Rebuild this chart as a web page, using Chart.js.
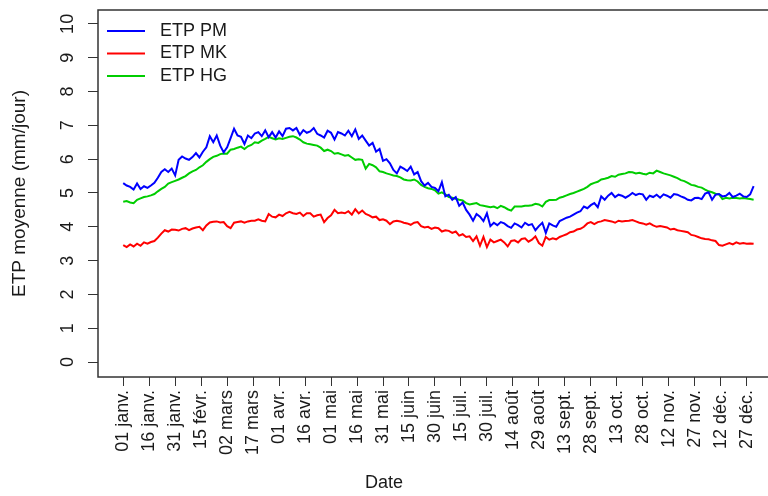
<!DOCTYPE html>
<html lang="fr">
<head>
<meta charset="utf-8">
<title>ETP moyenne journalière</title>
<script src="https://cdn.jsdelivr.net/npm/chart.js@4.4.1/dist/chart.umd.min.js"></script>
<style>
  html, body { margin: 0; padding: 0; background: #fff; overflow: hidden; }
  canvas { display: block; }
</style>
</head>
<body>
<canvas id="graphETP" width="768" height="496"></canvas>
<script>
// jour de l'année (0 = 1er janvier), un point tous les 2 jours
const jours = [];
for (let j = 0; j <= 364; j += 2) jours.push(j);

// ETP Penman-Monteith (mm/jour)
const etpPM = [
  5.29, 5.22, 5.18, 5.10, 5.28, 5.12, 5.20, 5.15, 5.22, 5.30,
  5.45, 5.62, 5.70, 5.62, 5.72, 5.52, 5.98, 6.08, 6.02, 5.98,
  6.06, 6.18, 6.05, 6.22, 6.35, 6.68, 6.50, 6.70, 6.40, 6.20,
  6.35, 6.62, 6.90, 6.70, 6.66, 6.45, 6.70, 6.62, 6.76, 6.80,
  6.68, 6.85, 6.65, 6.80, 6.64, 6.82, 6.68, 6.90, 6.92, 6.85,
  6.92, 6.72, 6.86, 6.78, 6.82, 6.92, 6.75, 6.70, 6.64, 6.84,
  6.78, 6.58, 6.80, 6.76, 6.70, 6.84, 6.68, 6.88, 6.60, 6.70,
  6.55, 6.40, 6.48, 6.22, 6.30, 5.95, 6.00, 5.88, 5.68, 5.58,
  5.78, 5.72, 5.65, 5.78, 5.55, 5.62, 5.35, 5.22, 5.30, 5.18,
  5.15, 5.05, 5.32, 4.90, 4.95, 4.80, 4.88, 4.62, 4.72, 4.50,
  4.36, 4.18, 4.38, 4.30, 4.17, 4.40, 4.02, 4.12, 4.05, 4.14,
  4.10, 4.02, 3.97, 4.10, 4.05, 3.98, 4.12, 4.05, 4.08, 3.90,
  4.02, 4.12, 3.82, 4.10, 4.04, 4.00, 4.17, 4.22, 4.27, 4.30,
  4.36, 4.42, 4.46, 4.60, 4.55, 4.64, 4.70, 4.58, 4.90, 4.80,
  4.92, 5.00, 4.88, 4.95, 4.92, 4.86, 4.92, 5.00, 4.94, 4.98,
  4.96, 4.80, 4.92, 4.88, 4.95, 4.86, 4.96, 4.92, 4.86, 4.97,
  4.95, 4.90, 4.86, 4.80, 4.78, 4.85, 4.86, 4.82, 4.98, 5.02,
  4.80, 4.95, 4.97, 4.90, 4.92, 5.00, 4.88, 4.92, 4.98, 4.90,
  4.88, 4.96, 5.20
];

// ETP Makkink
const etpMK = [
  3.46, 3.40, 3.48, 3.42, 3.50, 3.44, 3.54, 3.50, 3.55, 3.58,
  3.68, 3.80, 3.90, 3.86, 3.92, 3.91, 3.89, 3.94, 3.96, 3.90,
  3.95, 3.98, 4.00, 3.90, 4.04, 4.13, 4.15, 4.16, 4.13, 4.14,
  4.02, 3.96, 4.12, 4.14, 4.16, 4.12, 4.16, 4.18, 4.18, 4.22,
  4.18, 4.16, 4.38, 4.30, 4.28, 4.36, 4.32, 4.40, 4.44, 4.40,
  4.38, 4.42, 4.32, 4.40, 4.40, 4.30, 4.34, 4.36, 4.14, 4.26,
  4.34, 4.50, 4.40, 4.42, 4.40, 4.46, 4.36, 4.52, 4.40, 4.48,
  4.38, 4.34, 4.28, 4.30, 4.20, 4.22, 4.18, 4.08, 4.16, 4.18,
  4.16, 4.12, 4.10, 4.06, 4.12, 4.14, 4.02, 3.98, 4.00, 3.94,
  3.98, 3.96, 3.86, 3.90, 3.88, 3.82, 3.86, 3.74, 3.78, 3.70,
  3.72, 3.58, 3.72, 3.44, 3.70, 3.40, 3.62, 3.54, 3.58, 3.62,
  3.54, 3.42, 3.58, 3.60, 3.54, 3.64, 3.66, 3.56, 3.62, 3.72,
  3.52, 3.44, 3.70, 3.62, 3.66, 3.63, 3.70, 3.74, 3.78, 3.84,
  3.86, 3.92, 3.94, 4.00, 4.10, 4.14, 4.08, 4.14, 4.16, 4.20,
  4.18, 4.16, 4.12, 4.18, 4.16, 4.17, 4.18, 4.20, 4.16, 4.12,
  4.10, 4.06, 4.10, 4.04, 4.00, 4.02, 4.00, 3.98, 3.92, 3.94,
  3.90, 3.88, 3.86, 3.84, 3.76, 3.74, 3.70, 3.66, 3.64, 3.63,
  3.60, 3.58, 3.46, 3.44, 3.48, 3.52, 3.48, 3.54, 3.50, 3.52,
  3.50, 3.51, 3.50
];

// ETP Hargreaves
const etpHG = [
  4.74, 4.76, 4.72, 4.70, 4.80, 4.84, 4.88, 4.90, 4.93, 4.97,
  5.05, 5.12, 5.18, 5.28, 5.32, 5.36, 5.40, 5.45, 5.50, 5.58,
  5.64, 5.68, 5.76, 5.82, 5.92, 6.00, 6.07, 6.10, 6.15, 6.17,
  6.16, 6.28, 6.30, 6.34, 6.37, 6.30, 6.38, 6.42, 6.50, 6.48,
  6.55, 6.60, 6.66, 6.62, 6.58, 6.62, 6.60, 6.63, 6.66, 6.68,
  6.64, 6.58, 6.50, 6.46, 6.44, 6.42, 6.40, 6.34, 6.24, 6.28,
  6.24, 6.16, 6.18, 6.14, 6.10, 6.12, 6.05, 5.98, 6.00, 5.98,
  5.72, 5.86, 5.82, 5.76, 5.64, 5.62, 5.58, 5.55, 5.52, 5.50,
  5.46, 5.40, 5.38, 5.37, 5.40, 5.34, 5.24, 5.18, 5.14, 5.12,
  5.08, 4.98, 5.02, 4.96, 4.88, 4.86, 4.83, 4.80, 4.78, 4.70,
  4.66, 4.68, 4.70, 4.64, 4.62, 4.60, 4.58, 4.60, 4.55, 4.62,
  4.58, 4.52, 4.48, 4.60, 4.60, 4.60, 4.62, 4.62, 4.64, 4.68,
  4.66, 4.60, 4.74, 4.79, 4.79, 4.80, 4.86, 4.89, 4.93, 4.97,
  5.00, 5.04, 5.08, 5.12, 5.18, 5.26, 5.30, 5.33, 5.40, 5.42,
  5.45, 5.50, 5.48, 5.54, 5.56, 5.58, 5.62, 5.61, 5.58, 5.60,
  5.57, 5.55, 5.60, 5.58, 5.66, 5.62, 5.58, 5.55, 5.52, 5.48,
  5.44, 5.38, 5.35, 5.30, 5.24, 5.22, 5.18, 5.16, 5.10, 5.05,
  5.02, 4.98, 4.96, 4.82, 4.86, 4.84, 4.86, 4.85, 4.84, 4.85,
  4.84, 4.82, 4.80
];

// graduations de l'axe des dates (tous les 15 jours)
const joursGraduations = [0, 15, 30, 45, 60, 75, 90, 105, 120, 135, 150, 165, 180,
  195, 210, 225, 240, 255, 270, 285, 300, 315, 330, 345, 360];
const etiquettesDates = ["01 janv.", "16 janv.", "31 janv.", "15 févr.", "02 mars",
  "17 mars", "01 avr.", "16 avr.", "01 mai", "16 mai", "31 mai", "15 juin", "30 juin",
  "15 juil.", "30 juil.", "14 août", "29 août", "13 sept.", "28 sept.", "13 oct.",
  "28 oct.", "12 nov.", "27 nov.", "12 déc.", "27 déc."];
const graduationsETP = [0, 1, 2, 3, 4, 5, 6, 7, 8, 9, 10];

const couleurTexte = "#1a1a1a";
const couleurAxe = "#333";
Chart.defaults.font.family = '"Liberation Sans", Arial, sans-serif';
Chart.defaults.color = couleurTexte;

function serie(valeurs) {
  return valeurs.map((v, i) => ({ x: jours[i], y: v }));
}

// cadre autour de la zone de tracé + légende sans bordure en haut à gauche
const cadre = {
  id: "cadre",
  afterDraw: (chart) => {
    const { ctx, chartArea } = chart;
    ctx.save();
    ctx.strokeStyle = couleurAxe;
    ctx.lineWidth = 1.5;
    ctx.strokeRect(chartArea.left, chartArea.top,
      chartArea.right - chartArea.left + 20, chartArea.bottom - chartArea.top);

    ctx.font = '18px "Liberation Sans", Arial, sans-serif';
    ctx.textBaseline = "middle";
    chart.data.datasets.forEach((ds, i) => {
      const y = chartArea.top + 21 + i * 22.5;
      ctx.strokeStyle = ds.borderColor;
      ctx.lineWidth = 2;
      ctx.beginPath();
      ctx.moveTo(chartArea.left + 9, y);
      ctx.lineTo(chartArea.left + 47, y);
      ctx.stroke();
      ctx.fillStyle = couleurTexte;
      ctx.fillText(ds.label, chartArea.left + 62, y);
    });
    ctx.restore();
  },
};

new Chart("graphETP", {
  type: "line",
  data: {
    datasets: [
      { label: "ETP PM", data: serie(etpPM), borderColor: "#0000ff" },
      { label: "ETP MK", data: serie(etpMK), borderColor: "#ff0000" },
      { label: "ETP HG", data: serie(etpHG), borderColor: "#00cd00" },
    ],
  },
  options: {
    responsive: false,
    animation: false,
    devicePixelRatio: 1,
    layout: { padding: { top: 10, right: 0, left: 0, bottom: 0 } },
    elements: {
      line: { borderWidth: 2, tension: 0 },
      point: { radius: 0 },
    },
    plugins: {
      legend: { display: false },
      tooltip: { enabled: false },
      title: {
        display: true,
        text: "Date",
        position: "bottom",
        color: couleurTexte,
        font: { size: 18, weight: "normal" },
        padding: { top: 0, bottom: 2 },
      },
    },
    scales: {
      x: {
        type: "linear",
        min: -14.56,
        max: 372.3,
        border: { display: false },
        grid: { drawOnChartArea: false, tickLength: 9, color: couleurAxe },
        ticks: {
          autoSkip: false,
          minRotation: 90,
          maxRotation: 90,
          padding: 4,
          font: { size: 18 },
          callback: (v) => etiquettesDates[joursGraduations.indexOf(v)],
        },
        afterBuildTicks: (axe) => {
          axe.ticks = joursGraduations.map((v) => ({ value: v }));
        },
        afterFit: (axe) => {
          axe.height = 95.4;
          axe.paddingLeft = 0;
          axe.paddingRight = 0;
        },
      },
      y: {
        min: -0.44,
        max: 10.41,
        border: { display: false },
        grid: { drawOnChartArea: false, tickLength: 10, color: couleurAxe },
        title: {
          display: true,
          text: "ETP moyenne (mm/jour)",
          font: { size: 19 },
          padding: { top: 8, bottom: 0 },
        },
        ticks: {
          minRotation: 90,
          maxRotation: 90,
          crossAlign: "center",
          padding: 10,
          font: { size: 18 },
        },
        afterBuildTicks: (axe) => {
          axe.ticks = graduationsETP.map((v) => ({ value: v }));
        },
        afterFit: (axe) => {
          axe.width = 98;
          axe.paddingTop = 0;
          axe.paddingBottom = 0;
        },
      },
    },
  },
  plugins: [cadre],
});
</script>
</body>
</html>
